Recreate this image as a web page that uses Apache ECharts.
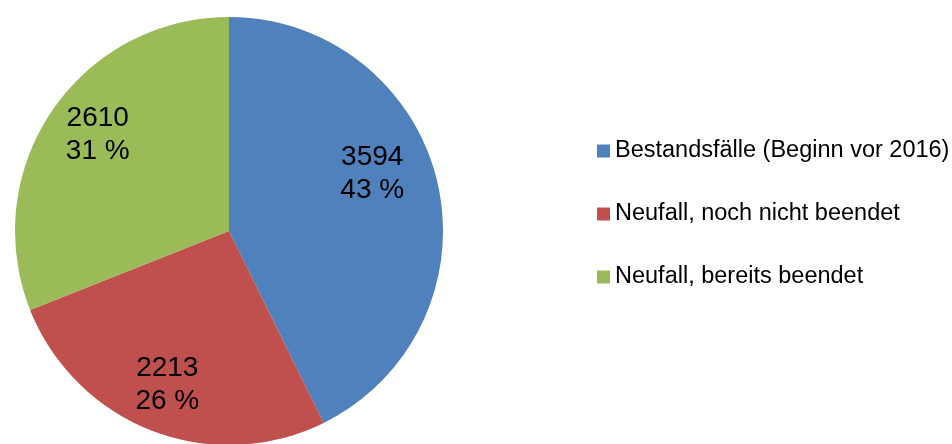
<!DOCTYPE html>
<html>
<head>
<meta charset="utf-8">
<script src="https://cdn.jsdelivr.net/npm/echarts@6/dist/echarts.min.js"></script>
<style>html,body{margin:0;padding:0;background:#fff}#c{width:952px;height:444px}</style>
</head>
<body>
<div id="c"></div>
<script>
var categories = ['Bestandsfälle (Beginn vor 2016)', 'Neufall, noch nicht beendet', 'Neufall, bereits beendet'];
var values = [3594, 2213, 2610];
var percents = [43, 26, 31];
var colors = ['#4F81BD', '#C0504D', '#9BBB59'];
var labelOffsets = [[-16, -20], [-3, 1], [4, -4]];

var R = 214;
var center = [229, 231];
var font = 'Arial, "Liberation Sans", sans-serif';

var mainData = categories.map(function (n, i) {
  return { name: n, value: values[i], itemStyle: { color: colors[i] } };
});
var labelData = categories.map(function (n, i) {
  return {
    name: n, value: values[i],
    label: { offset: labelOffsets[i], formatter: values[i] + '\n' + percents[i] + ' %' }
  };
});

var chart = echarts.init(document.getElementById('c'), null, { renderer: 'canvas' });
chart.setOption({
  animation: false,
  backgroundColor: '#fff',
  legend: {
    orient: 'vertical',
    left: 592,
    top: 134,
    icon: 'rect',
    itemWidth: 13,
    itemHeight: 13,
    itemGap: 39,
    data: categories,
    textStyle: { fontFamily: font, fontSize: 23.5, color: '#000', lineHeight: 24 }
  },
  series: [
    {
      type: 'pie',
      center: center,
      radius: [0, R],
      startAngle: 90,
      clockwise: true,
      silent: true,
      label: { show: false },
      labelLine: { show: false },
      data: mainData
    },
    {
      type: 'pie',
      center: center,
      radius: [R * 0.5, R],
      startAngle: 90,
      clockwise: true,
      silent: true,
      itemStyle: { color: 'rgba(0,0,0,0)' },
      label: {
        show: true, position: 'inside', color: '#000',
        fontFamily: font, fontSize: 28, lineHeight: 33, align: 'center'
      },
      labelLine: { show: false },
      data: labelData
    }
  ]
});
</script>
</body>
</html>
